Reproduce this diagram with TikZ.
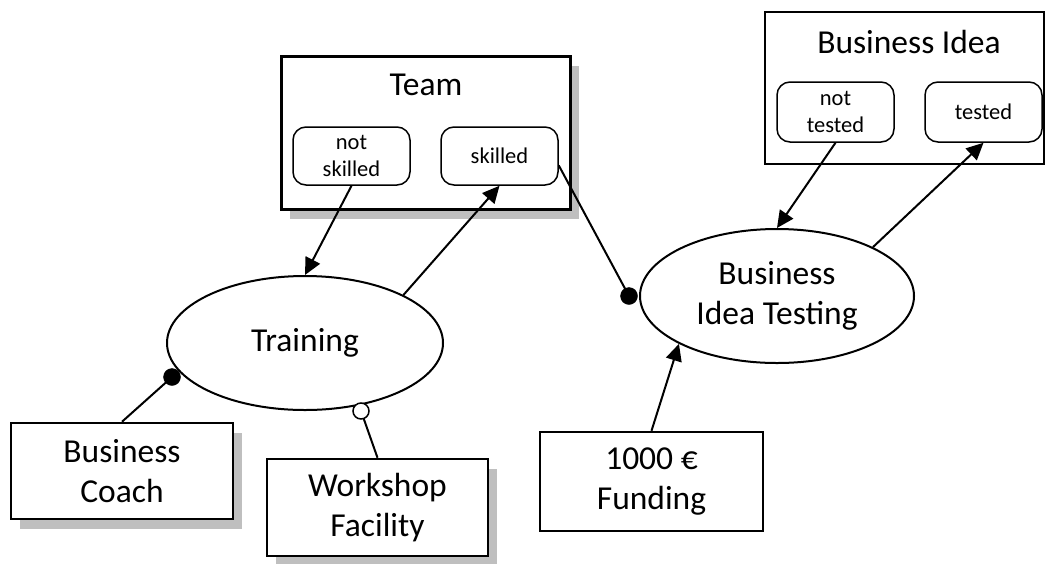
\documentclass[tikz,border=0pt]{standalone}
\usepackage{fontspec}
\setmainfont{Carlito}
\usetikzlibrary{arrows.meta,shadows,shapes.geometric}

\begin{document}
\begin{tikzpicture}[x=1pt,y=-1pt,
  big/.style={font=\fontsize{33.5}{40}\selectfont},
  small/.style={font=\fontsize{22.5}{27}\selectfont},
  entity/.style={draw=black, line width=2.5pt, fill=white, rectangle, inner sep=0pt, align=center, big},
  shadowed/.style={drop shadow={shadow xshift=9pt, shadow yshift=-10pt, fill=black!25, opacity=1}},
  state/.style={draw=black, line width=1.5pt, rounded corners=13pt, fill=white,
    minimum width=117pt, minimum height=58pt, inner sep=0pt, align=center, small},
  process/.style={draw=black, line width=2pt, ellipse, fill=white, inner sep=0pt, align=center, big},
  link/.style={line width=2pt},
  flow/.style={link, -{Triangle[length=17pt,width=16pt]}},
  fdot/.style={circle, fill=black, draw=black, inner sep=0pt, minimum size=17pt},
  odot/.style={circle, fill=white, draw=black, line width=1.5pt, inner sep=0pt, minimum size=16pt},
]
\useasboundingbox[fill=white] (0,0) rectangle (1046,563);

% Team resource with its two states
\node[entity, shadowed, line width=3pt, minimum width=289pt, minimum height=153pt] (team) at (425.5,132.5) {};
\node[big] (teamtitle) at (426,85) {Team};
\node[state] (notskilled) at (351.5,156) {not\\skilled};
\node[state] (skilled) at (499.5,156) {skilled};

% Business idea resource with its two states
\node[entity, minimum width=279pt, minimum height=152pt] (idea) at (904.5,88) {};
\node[big] (ideatitle) at (909,42) {Business Idea};
\node[state, minimum height=60pt] (nottested) at (835.5,112) {not\\tested};
\node[state, minimum height=60pt] (tested) at (983.5,112) {tested};

% Processes
\node[process, minimum width=276pt, minimum height=134pt] (training) at (305,343) {Training};
\node[process, minimum width=274pt, minimum height=134pt] (testing) at (777,296) {Business\\Idea Testing};

% Enablers and inputs
\node[entity, shadowed, minimum width=222pt, minimum height=96pt] (coach) at (122,471) {Business\\Coach};
\node[entity, shadowed, minimum width=221pt, minimum height=97pt] (workshop) at (377.5,507.5) {Workshop\\Facility};
\node[entity, minimum width=223pt, minimum height=99pt] (funding) at (651.5,481.5) {1000 €\\Funding};

% Link ends
\coordinate (coachdot) at (172,377);
\coordinate (workdot) at (361,411);
\coordinate (skilldot) at (629,296);

% Connectors
\draw[link] (coach.north) -- (coachdot);
\draw[link] (workshop.north) -- (workdot);
\draw[flow] (notskilled.south) -- (training.north);
\draw[flow] (training.26) -- (skilled.south);
\draw[link] (skilled.-9) -- (skilldot);
\draw[flow] (nottested.south) -- (testing.north);
\draw[flow] (testing.27) -- (tested.south);
\draw[flow] (funding.north) -- (testing.206);

\node[fdot] (cd) at (coachdot) {};
\node[odot] (wd) at (workdot) {};
\node[fdot] (sd) at (skilldot) {};
\end{tikzpicture}
\end{document}
